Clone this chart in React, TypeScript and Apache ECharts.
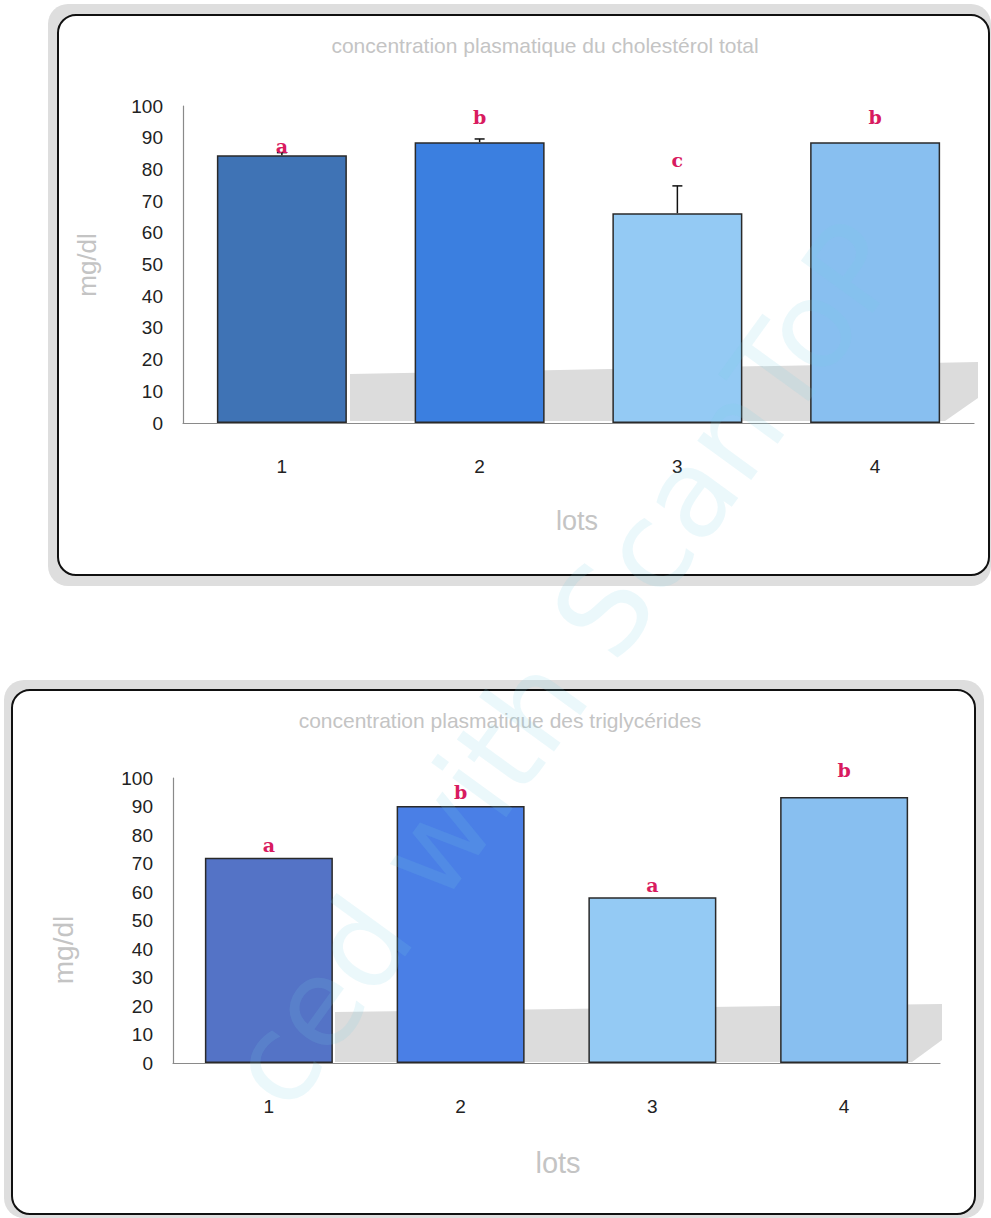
import { useEffect, useRef } from "react";
import * as echarts from "echarts";

const categories = ["1", "2", "3", "4"];
const yTickMin = 0;
const yTickMax = 100;
const yTickStep = 10;

const cholTitle = "concentration plasmatique du cholestérol total";
const cholValues = [84.5, 88.6, 66.2, 88.6];
const cholErrors = [0.8, 1.0, 8.6, 0];
const cholLetters = ["a", "b", "c", "b"];
const cholLetterLevels = [87.5, 96.5, 83, 96.5];
const cholColors = ["#3f73b5", "#3b7fe0", "#94caf4", "#88bff0"];

const trigTitle = "concentration plasmatique des triglycérides";
const trigValues = [72, 90.2, 58.2, 93.3];
const trigErrors = [0, 0, 0, 0];
const trigLetters = ["a", "b", "a", "b"];
const trigLetterLevels = [76.5, 95, 62.5, 102.8];
const trigColors = ["#5473c6", "#4a7fe6", "#94caf4", "#88bff0"];

const yName = "mg/dl";
const xName = "lots";
const watermark = "ced with ScanToP";

function makeErrLetterSeries(values: number[], errors: number[], levels: number[], letters: string[], idx: number) {
  return {
    type: "custom",
    xAxisIndex: idx,
    yAxisIndex: idx,
    clip: false,
    z: 5,
    data: values.map((v, i) => [i, v, errors[i], levels[i]]),
    renderItem: (params: any, api: any) => {
      const i = params.dataIndex;
      const x = api.value(0);
      const v = api.value(1);
      const e = api.value(2);
      const lv = api.value(3);
      const children: any[] = [];
      if (e > 0) {
        const p0 = api.coord([x, v]);
        const p1 = api.coord([x, v + e]);
        children.push({
          type: "line",
          shape: { x1: p0[0], y1: p0[1], x2: p1[0], y2: p1[1] },
          style: { stroke: "#111", lineWidth: 1.5 },
        });
        children.push({
          type: "line",
          shape: { x1: p1[0] - 5, y1: p1[1], x2: p1[0] + 5, y2: p1[1] },
          style: { stroke: "#111", lineWidth: 1.5 },
        });
      }
      const pl = api.coord([x, lv]);
      children.push({
        type: "text",
        x: pl[0],
        y: pl[1],
        style: {
          text: letters[i],
          fill: "#d81b60",
          font: "bold 19px 'DejaVu Serif', serif",
          align: "center",
          verticalAlign: "middle",
        },
      });
      return { type: "group", children };
    },
  };
}

function makeBarSeries(values: number[], colors: string[], idx: number, width: number) {
  return {
    type: "bar",
    xAxisIndex: idx,
    yAxisIndex: idx,
    barWidth: width,
    z: 3,
    data: values.map((v, i) => ({
      value: v,
      itemStyle: { color: colors[i], borderColor: "#2a2a2a", borderWidth: 1.5 },
    })),
  };
}

const axisLabelFont = { fontFamily: "'Liberation Sans', sans-serif", fontSize: 19, color: "#222" };

export default function App() {
  const ref = useRef<HTMLDivElement>(null);
  useEffect(() => {
    if (!ref.current) return;
    const chart = echarts.init(ref.current, undefined, { renderer: "svg" });
    const grids = [
      { left: 183, top: 106, width: 791, height: 317 },
      { left: 173, top: 778, width: 767, height: 285 },
    ];
    const yAxes = grids.map((_, i) => ({
      type: "value",
      gridIndex: i,
      min: yTickMin,
      max: yTickMax,
      interval: yTickStep,
      axisLine: { show: true, lineStyle: { color: "#8a8a8a", width: 1.2 } },
      axisTick: { show: false },
      splitLine: { show: false },
      axisLabel: { ...axisLabelFont, margin: 20 },
    }));
    const xAxes = grids.map((_, i) => ({
      type: "category",
      gridIndex: i,
      data: categories,
      axisLine: { show: true, lineStyle: { color: "#8a8a8a", width: 1.2 } },
      axisTick: { show: false },
      axisLabel: { ...axisLabelFont, margin: 34 },
    }));
    const boxText = { fill: "#c4c4c4", fontFamily: "'Liberation Sans', sans-serif" };
    chart.setOption({
      animation: false,
      backgroundColor: "#ffffff",
      grid: grids,
      xAxis: xAxes,
      yAxis: yAxes,
      graphic: [
        // chart 1 frame
        { type: "rect", z: -10, shape: { x: 48, y: 4, width: 943, height: 582, r: 20 }, style: { fill: "#dedede" } },
        { type: "rect", z: -9, shape: { x: 58, y: 15, width: 931, height: 560, r: 18 }, style: { fill: "#fff", stroke: "#111", lineWidth: 2 } },
        { type: "polygon", z: -8, shape: { points: [[350, 374], [978, 362], [978, 398], [945, 421], [350, 421]] }, style: { fill: "#dcdcdc" } },
        { type: "text", z: 10, x: 545, y: 45, style: { ...boxText, text: cholTitle, fontSize: 21, align: "center", verticalAlign: "middle" } },
        { type: "text", z: 10, x: 87, y: 265, rotation: Math.PI / 2, style: { ...boxText, text: yName, fontSize: 26, align: "center", verticalAlign: "middle" } },
        { type: "text", z: 10, x: 577, y: 521, style: { ...boxText, text: xName, fontSize: 27, align: "center", verticalAlign: "middle" } },
        // chart 2 frame
        { type: "rect", z: -10, shape: { x: 4, y: 680, width: 980, height: 538, r: 20 }, style: { fill: "#dedede" } },
        { type: "rect", z: -9, shape: { x: 12, y: 690, width: 963, height: 524, r: 18 }, style: { fill: "#fff", stroke: "#111", lineWidth: 2 } },
        { type: "polygon", z: -8, shape: { points: [[335, 1012], [942, 1004], [942, 1040], [912, 1062], [335, 1062]] }, style: { fill: "#dcdcdc" } },
        { type: "text", z: 10, x: 500, y: 720, style: { ...boxText, text: trigTitle, fontSize: 21, align: "center", verticalAlign: "middle" } },
        { type: "text", z: 10, x: 63, y: 950, rotation: Math.PI / 2, style: { ...boxText, text: yName, fontSize: 28, align: "center", verticalAlign: "middle" } },
        { type: "text", z: 10, x: 558, y: 1163, style: { ...boxText, text: xName, fontSize: 29, align: "center", verticalAlign: "middle" } },
        // watermark
        { type: "text", z: 20, x: 565, y: 665, rotation: Math.PI * 0.3, style: { text: watermark, fill: "rgba(120,210,225,0.15)", font: "122px 'DejaVu Sans', sans-serif", align: "center", verticalAlign: "middle" } },
      ],
      series: [
        makeBarSeries(cholValues, cholColors, 0, 130),
        makeErrLetterSeries(cholValues, cholErrors, cholLetterLevels, cholLetters, 0),
        makeBarSeries(trigValues, trigColors, 1, 128),
        makeErrLetterSeries(trigValues, trigErrors, trigLetterLevels, trigLetters, 1),
      ],
    });
    return () => chart.dispose();
  }, []);
  return <div ref={ref} style={{ position: "absolute", left: 0, top: 0, width: 991, height: 1218 }} />;
}
